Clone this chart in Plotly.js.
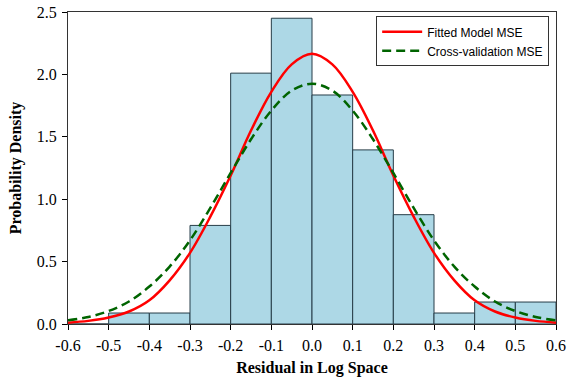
<!DOCTYPE html>
<html>
<head>
<meta charset="utf-8">
<script src="https://cdn.plot.ly/plotly-3.0.1.min.js"></script>
<style>
  html, body { margin: 0; padding: 0; background: #ffffff; }
  #chart { width: 576px; height: 384px; }
</style>
</head>
<body>
<div id="chart"></div>
<script>
// Histogram bins (centres) and density heights
const binCenters = [-0.55, -0.45, -0.35, -0.25, -0.15, -0.05, 0.05, 0.15, 0.25, 0.35, 0.45, 0.55];
const binDensity = [0.0, 0.088, 0.088, 0.79, 2.01, 2.45, 1.835, 1.395, 0.876, 0.088, 0.176, 0.176];

// Curve sample points
const curveX = [-0.6, -0.55, -0.5, -0.45, -0.4, -0.35, -0.3, -0.25, -0.2, -0.15, -0.1, -0.05, 0.0,
                0.05, 0.1, 0.15, 0.2, 0.25, 0.3, 0.35, 0.4, 0.45, 0.5, 0.55, 0.6];
const fittedMSE = [0.011, 0.025, 0.052, 0.10, 0.19, 0.35, 0.57, 0.86, 1.19, 1.55, 1.86, 2.08, 2.165,
                   2.08, 1.86, 1.55, 1.19, 0.86, 0.57, 0.35, 0.19, 0.10, 0.052, 0.025, 0.011];
const crossValMSE = [0.03, 0.056, 0.104, 0.18, 0.30, 0.46, 0.67, 0.93, 1.21, 1.48, 1.71, 1.87, 1.925,
                     1.87, 1.71, 1.48, 1.21, 0.93, 0.67, 0.46, 0.30, 0.18, 0.104, 0.056, 0.03];

// Tick labels
const xTickVals = [-0.6, -0.5, -0.4, -0.3, -0.2, -0.1, 0.0, 0.1, 0.2, 0.3, 0.4, 0.5, 0.6];
const xTickText = ["-0.6", "-0.5", "-0.4", "-0.3", "-0.2", "-0.1", "0.0", "0.1", "0.2", "0.3", "0.4", "0.5", "0.6"];
const yTickVals = [0.0, 0.5, 1.0, 1.5, 2.0, 2.5];
const yTickText = ["0.0", "0.5", "1.0", "1.5", "2.0", "2.5"];

const seriesNames = ["Fitted Model MSE", "Cross-validation MSE"];

const traces = [
  {
    type: "bar",
    x: binCenters,
    y: binDensity,
    width: 0.1,
    marker: { color: "#ADD8E6", line: { color: "#263D48", width: 1 } },
    showlegend: false,
    hoverinfo: "skip"
  },
  {
    type: "scatter",
    mode: "lines",
    x: curveX,
    y: fittedMSE,
    name: seriesNames[0],
    line: { color: "#FF0000", width: 2.5, shape: "spline", smoothing: 1 }
  },
  {
    type: "scatter",
    mode: "lines",
    x: curveX,
    y: crossValMSE,
    name: seriesNames[1],
    line: { color: "#006400", width: 2.5, dash: "9px,5px", shape: "spline", smoothing: 1 }
  }
];

const serif = "Liberation Serif, Times New Roman, serif";

const layout = {
  width: 576,
  height: 384,
  margin: { l: 68, r: 20, t: 12, b: 60 },
  paper_bgcolor: "#ffffff",
  plot_bgcolor: "#ffffff",
  bargap: 0,
  xaxis: {
    range: [-0.6, 0.6],
    tickmode: "array",
    tickvals: xTickVals,
    ticktext: xTickText,
    ticks: "outside",
    ticklen: 5,
    tickcolor: "#000",
    ticklabelstandoff: 2,
    showline: true,
    linecolor: "#333",
    linewidth: 1,
    mirror: true,
    showgrid: false,
    zeroline: false,
    tickfont: { family: serif, size: 16, color: "#000" },
    title: { text: "Residual in Log Space", font: { family: serif, size: 16, color: "#000", weight: "bold" }, standoff: 8 }
  },
  yaxis: {
    range: [0, 2.5],
    tickmode: "array",
    tickvals: yTickVals,
    ticktext: yTickText,
    ticks: "outside",
    ticklen: 5,
    tickcolor: "#000",
    ticklabelstandoff: 2,
    showline: true,
    linecolor: "#333",
    linewidth: 1,
    mirror: true,
    showgrid: false,
    zeroline: false,
    tickfont: { family: serif, size: 16, color: "#000" },
    title: { text: "Probability Density", font: { family: serif, size: 16, color: "#000", weight: "bold" }, standoff: 11 }
  },
  legend: {
    x: 0.986,
    y: 0.986,
    xanchor: "right",
    yanchor: "top",
    bgcolor: "#ffffff",
    bordercolor: "#333",
    borderwidth: 1,
    font: { family: "Liberation Sans, Arial, sans-serif", size: 12, color: "#000" },
    tracegroupgap: 0,
    itemwidth: 40
  },
  showlegend: true,
  hovermode: false
};

Plotly.newPlot("chart", traces, layout, { displayModeBar: false, staticPlot: true });
</script>
</body>
</html>
